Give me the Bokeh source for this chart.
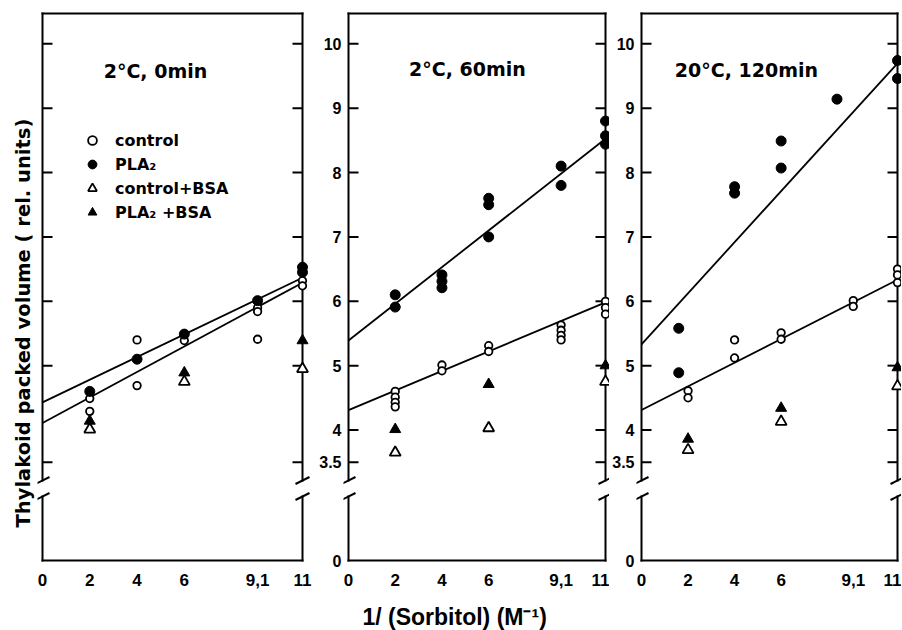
from bokeh.plotting import figure
from bokeh.models import (Range1d, FixedTicker, LinearAxis, Legend, LegendItem,
                          Label, Title)
from bokeh.core.properties import value
from bokeh.layouts import row
from bokeh.embed import file_html
from bokeh.resources import INLINE

# ---------------- data ----------------
X_TICKS = [0, 2, 4, 6, 9.1, 11]
X_TICK_LABELS = ["0", "2", "4", "6", "9,1", "11"]
Y_TICKS = [3.5, 4, 5, 6, 7, 8, 9, 10]
Y_TICK_LABELS = ["3.5", "4", "5", "6", "7", "8", "9", "10"]
Y_TICKS_PANEL1 = [3.5, 5, 6, 7, 8, 9, 10]
Y_ZERO_LABEL = "0"

PANEL_TITLES = ["2°C, 0min", "2°C, 60min", "20°C, 120min"]
SERIES_NAMES = ["control", "PLA₂", "control+BSA", "PLA₂ +BSA"]
Y_TITLE = "Thylakoid packed volume ( rel. units)"
X_TITLE = "1/ (Sorbitol) (M⁻¹)"

# panel 1: 2 °C, 0 min
p1_control_x = [2, 2, 4, 4, 6, 9.1, 9.1, 9.1, 11, 11]
p1_control_y = [4.49, 4.29, 5.40, 4.69, 5.39, 5.90, 5.84, 5.41, 6.32, 6.24]
p1_pla2_x = [2, 4, 6, 9.1, 11, 11]
p1_pla2_y = [4.60, 5.10, 5.49, 6.01, 6.53, 6.45]
p1_control_bsa_x = [2, 6, 11]
p1_control_bsa_y = [4.01, 4.75, 4.95]
p1_pla2_bsa_x = [2, 6, 11]
p1_pla2_bsa_y = [4.14, 4.89, 5.39]
p1_fit_control = [4.11, 0.198]   # intercept, slope
p1_fit_pla2 = [4.43, 0.176]

# panel 2: 2 °C, 60 min
p2_control_x = [2, 2, 2, 2, 4, 4, 6, 6, 9.1, 9.1, 9.1, 9.1, 11, 11, 11]
p2_control_y = [4.60, 4.51, 4.43, 4.36, 5.01, 4.92, 5.31, 5.22,
                5.63, 5.55, 5.47, 5.40, 6.00, 5.90, 5.80]
p2_pla2_x = [2, 2, 4, 4, 4, 6, 6, 6, 9.1, 9.1, 11, 11, 11]
p2_pla2_y = [6.10, 5.91, 6.41, 6.31, 6.21, 7.60, 7.50, 7.00,
             8.10, 7.80, 8.80, 8.57, 8.44]
p2_control_bsa_x = [2, 6, 11]
p2_control_bsa_y = [3.65, 4.03, 4.75]
p2_pla2_bsa_x = [2, 6, 11]
p2_pla2_bsa_y = [4.01, 4.71, 5.00]
p2_fit_control = [4.31, 0.152]
p2_fit_pla2 = [5.39, 0.285]

# panel 3: 20 °C, 120 min
p3_control_x = [2, 2, 4, 4, 6, 6, 9.1, 9.1, 11, 11, 11]
p3_control_y = [4.61, 4.50, 5.40, 5.12, 5.51, 5.41, 6.01, 5.92, 6.50, 6.41, 6.29]
p3_pla2_x = [1.6, 1.6, 4, 4, 6, 6, 8.4, 11, 11]
p3_pla2_y = [5.58, 4.89, 7.78, 7.68, 8.49, 8.07, 9.14, 9.74, 9.46]
p3_control_bsa_x = [2, 6, 11]
p3_control_bsa_y = [3.69, 4.13, 4.68]
p3_pla2_bsa_x = [2, 6, 11]
p3_pla2_bsa_y = [3.86, 4.34, 4.97]
p3_fit_control = [4.31, 0.184]
p3_fit_pla2 = [5.33, 0.397]

FIT_X = [0, 11]

PANELS = [
    dict(control=(p1_control_x, p1_control_y), pla2=(p1_pla2_x, p1_pla2_y),
         control_bsa=(p1_control_bsa_x, p1_control_bsa_y),
         pla2_bsa=(p1_pla2_bsa_x, p1_pla2_bsa_y),
         fits=[p1_fit_control, p1_fit_pla2], yticks=Y_TICKS_PANEL1),
    dict(control=(p2_control_x, p2_control_y), pla2=(p2_pla2_x, p2_pla2_y),
         control_bsa=(p2_control_bsa_x, p2_control_bsa_y),
         pla2_bsa=(p2_pla2_bsa_x, p2_pla2_bsa_y),
         fits=[p2_fit_control, p2_fit_pla2], yticks=Y_TICKS),
    dict(control=(p3_control_x, p3_control_y), pla2=(p3_pla2_x, p3_pla2_y),
         control_bsa=(p3_control_bsa_x, p3_control_bsa_y),
         pla2_bsa=(p3_pla2_bsa_x, p3_pla2_bsa_y),
         fits=[p3_fit_control, p3_fit_pla2], yticks=Y_TICKS),
]

# ---------------- layout / style ----------------
BORDER_W = [260, 257, 256]       # px between x=0 and x=11
PAD_L = [5, 5, 5]
PAD_R = [8, 4, 4]
MIN_BL = [37, 29, 27]
MIN_BR = [4, 0, 0]
MIN_BT = 10
FRAME_H = 553
PPU_Y = 64.37                    # px per y unit
Y_END = 10 + 33.3 / PPU_Y
Y_START = Y_END - FRAME_H / PPU_Y
ZERO_POS = Y_START + 3 / PPU_Y   # where the broken axis shows "0"
TOP_POS = Y_END - 3 / PPU_Y
BREAK_HI = 3.5 - 18.3 / PPU_Y
BREAK_LO = 3.5 - 34.3 / PPU_Y
TICK_LEN = 10
SLASH_DX = 7
SLASH_DY = 3.5
TITLE_POS = [(4.78, 9.585), (5.09, 9.61), (4.51, 9.59)]

BOLD_FONT = "Liberation Sans"
WIDE_FONT = "DejaVu Sans"


def make_panel(k):
    d = PANELS[k]
    bw = BORDER_W[k]
    ppu = bw / 11.0
    p = figure(frame_width=bw + PAD_L[k] + PAD_R[k], frame_height=FRAME_H,
               x_range=Range1d(-PAD_L[k] / ppu, 11 + PAD_R[k] / ppu),
               y_range=Range1d(Y_START, Y_END),
               x_axis_type=None, y_axis_type=None,
               toolbar_location=None, output_backend="svg",
               min_border_left=MIN_BL[k], min_border_right=MIN_BR[k],
               min_border_top=MIN_BT, min_border_bottom=50,
               outline_line_color=None,
               background_fill_color="white", border_fill_color="white")

    # frame with broken vertical axes
    p.segment(x0=[0, 0], y0=[ZERO_POS, TOP_POS], x1=[11, 11], y1=[ZERO_POS, TOP_POS],
              line_color="black", line_width=2, line_cap="square")
    for xb in (0, 11):
        p.segment(x0=[xb, xb], y0=[ZERO_POS, BREAK_HI], x1=[xb, xb], y1=[BREAK_LO, TOP_POS],
                  line_color="black", line_width=2, line_cap="square")
        dx = SLASH_DX / ppu
        dy = SLASH_DY / PPU_Y
        p.segment(x0=[xb - dx, xb - dx], y0=[BREAK_LO - dy, BREAK_HI - dy],
                  x1=[xb + dx, xb + dx], y1=[BREAK_LO + dy, BREAK_HI + dy],
                  line_color="black", line_width=2)

    # inward tick marks on both vertical axes
    ticks = d["yticks"]
    n = len(ticks)
    tl = TICK_LEN / ppu
    p.segment(x0=[0] * n + [11 - tl] * n, x1=[tl] * n + [11] * n,
              y0=ticks + ticks, y1=ticks + ticks, line_color="black", line_width=2)

    # regression lines
    for b, m in d["fits"]:
        p.line(x=FIT_X, y=[b + m * x for x in FIT_X], line_color="black", line_width=1.8)

    r_ctrl = p.scatter(x=d["control"][0], y=d["control"][1], marker="circle", size=7.5,
                       line_color="black", line_width=1.8, fill_color="white")
    r_pla = p.scatter(x=d["pla2"][0], y=d["pla2"][1], marker="circle", size=10,
                      line_color="black", fill_color="black")
    r_cb = p.scatter(x=d["control_bsa"][0], y=d["control_bsa"][1], marker="triangle",
                     size=11, line_color="black", line_width=1.8, fill_color="white")
    r_pb = p.scatter(x=d["pla2_bsa"][0], y=d["pla2_bsa"][1], marker="triangle",
                     size=11, line_color="black", fill_color="black")

    # x axis
    xa = LinearAxis(ticker=FixedTicker(ticks=X_TICKS),
                    major_label_overrides={float(t): s for t, s in zip(X_TICKS, X_TICK_LABELS)},
                    axis_line_color=None, major_tick_line_color=None,
                    minor_tick_line_color=None, major_tick_in=0, major_tick_out=0,
                    major_label_standoff=10, major_label_text_font=BOLD_FONT,
                    major_label_text_font_style="bold", major_label_text_font_size="17px",
                    major_label_text_color="black")
    p.add_layout(xa, "below")

    if k > 0:
        yt = [ZERO_POS] + Y_TICKS
        yl = [Y_ZERO_LABEL] + Y_TICK_LABELS
        ya = LinearAxis(ticker=FixedTicker(ticks=yt),
                        major_label_overrides={float(t): s for t, s in zip(yt, yl)},
                        axis_line_color=None, major_tick_line_color=None,
                        minor_tick_line_color=None, major_tick_in=0, major_tick_out=0,
                        major_label_standoff=2, major_label_text_font=BOLD_FONT,
                        major_label_text_font_style="bold", major_label_text_font_size="16px",
                        major_label_text_color="black")
        p.add_layout(ya, "left")
    else:
        ytitle = Title(text=Y_TITLE, align="left", offset=36, standoff=6,
                       text_font=WIDE_FONT, text_font_style="bold",
                       text_font_size="19.5px", text_color="black")
        p.add_layout(ytitle, "left")
        legend = Legend(items=[LegendItem(label=value(SERIES_NAMES[0]), renderers=[r_ctrl]),
                               LegendItem(label=value(SERIES_NAMES[1]), renderers=[r_pla]),
                               LegendItem(label=value(SERIES_NAMES[2]), renderers=[r_cb]),
                               LegendItem(label=value(SERIES_NAMES[3]), renderers=[r_pb])],
                        location=(44, 340), orientation="vertical",
                        glyph_width=22, glyph_height=22, label_height=22,
                        label_standoff=12, spacing=2, padding=0, margin=0,
                        border_line_color=None, background_fill_alpha=0,
                        label_text_font=WIDE_FONT, label_text_font_style="bold",
                        label_text_font_size="16px", label_text_color="black")
        p.add_layout(legend)

    if k == 1:
        xtitle = Title(text=X_TITLE, align="left", offset=19, standoff=26,
                       text_font=BOLD_FONT, text_font_style="bold",
                       text_font_size="23px", text_color="black")
        p.add_layout(xtitle, "below")

    tx, ty = TITLE_POS[k]
    p.add_layout(Label(x=tx, y=ty, text=PANEL_TITLES[k], text_align="center",
                       text_baseline="middle", text_font=WIDE_FONT,
                       text_font_style="bold", text_font_size="19px",
                       text_color="black"))
    return p


panels = [make_panel(k) for k in range(3)]
layout = row(*panels)

with open("out.html", "w") as f:
    f.write(file_html(layout, INLINE))
